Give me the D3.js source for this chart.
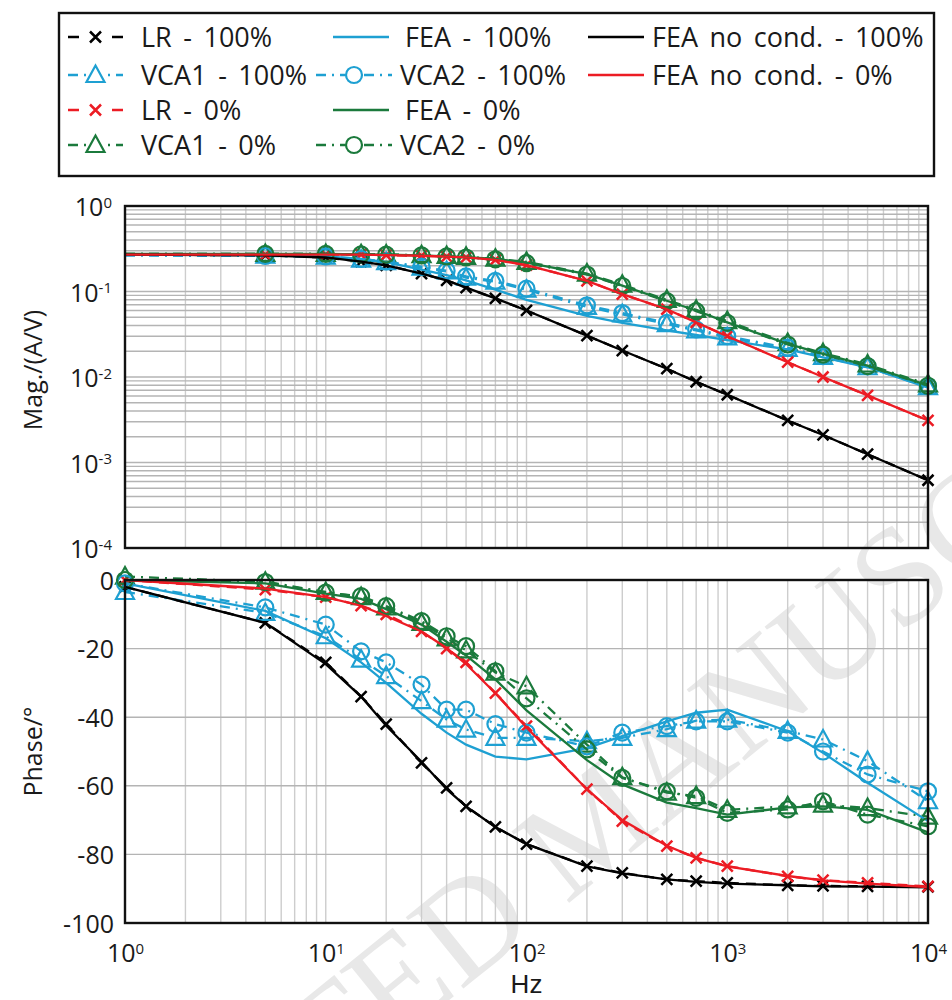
<!DOCTYPE html>
<html><head><meta charset="utf-8">
<script src="https://cdn.jsdelivr.net/npm/d3@7"></script>
<style>
body{margin:0;background:#fff}
svg{display:block}
text{font-family:"Open Sans",sans-serif;fill:#1a1a1a}
</style>
</head><body>
<svg id="c" width="952" height="1000"></svg>
<script>
// ---------------- data ----------------
const freq = [1,5,10,15,20,30,40,50,70,100,200,300,500,700,1000,2000,3000,5000,10000];

const magLR100    = [0.27,0.265,0.25,0.224,0.202,0.162,0.135,0.111,0.083,0.060,0.0305,0.0204,0.0125,0.0088,0.0062,0.0031,0.0021,0.00125,0.00062];
const magVCA1_100 = [0.265,0.262,0.255,0.235,0.22,0.19,0.172,0.145,0.13,0.105,0.066,0.054,0.0415,0.035,0.029,0.0213,0.0172,0.013,0.0076];
const magLR0      = [0.27,0.27,0.27,0.27,0.266,0.262,0.256,0.25,0.235,0.203,0.133,0.093,0.062,0.0435,0.030,0.0149,0.0100,0.0061,0.0031];
const magVCA1_0   = [0.275,0.275,0.275,0.273,0.271,0.266,0.26,0.254,0.242,0.222,0.162,0.12,0.080,0.061,0.045,0.025,0.019,0.014,0.0082];
const magFEA100   = [0.27,0.268,0.258,0.24,0.22,0.18,0.155,0.135,0.105,0.080,0.052,0.043,0.035,0.031,0.027,0.021,0.017,0.013,0.0075];
const magVCA2_100 = [0.265,0.26,0.257,0.24,0.225,0.195,0.175,0.15,0.133,0.108,0.069,0.056,0.043,0.036,0.030,0.022,0.0175,0.0133,0.0078];
const magFEA0     = [0.275,0.275,0.275,0.272,0.27,0.265,0.258,0.252,0.24,0.218,0.16,0.117,0.078,0.060,0.0436,0.0244,0.0186,0.0136,0.0080];
const magVCA2_0   = [0.275,0.275,0.275,0.272,0.27,0.264,0.257,0.25,0.238,0.215,0.158,0.116,0.077,0.059,0.043,0.024,0.0183,0.0134,0.0079];
const magFEAnc100 = [0.27,0.265,0.25,0.224,0.202,0.162,0.135,0.111,0.083,0.060,0.0305,0.0204,0.0125,0.0088,0.0062,0.0031,0.0021,0.00125,0.00062];
const magFEAnc0   = [0.27,0.27,0.27,0.27,0.266,0.262,0.256,0.25,0.235,0.203,0.133,0.093,0.062,0.0435,0.030,0.0149,0.0100,0.0061,0.0031];

const phLR100    = [-2,-12.5,-24,-34,-42,-53.3,-60.6,-66,-72,-77,-83.4,-85.4,-87.3,-87.8,-88.3,-89,-89.2,-89.3,-89.5];
const phVCA1_100 = [-3.5,-9.6,-16.4,-23.2,-28,-35.3,-40.7,-43.6,-46,-46,-47,-46,-43.5,-41,-40.7,-44,-46.5,-52.8,-64.5];
const phLR0      = [0,-2.8,-5,-7.5,-10,-15,-20,-24,-33,-42.6,-61,-70.3,-77.6,-81,-83.4,-86.4,-87.5,-88.3,-89.3];
const phVCA1_0   = [1,-0.5,-3.5,-5,-8,-12.5,-17,-20.5,-27,-31,-48,-57.5,-62,-63,-67,-66,-65.5,-66.5,-69];
const phFEA100   = [-1,-9,-17,-24,-30,-39,-44.5,-48,-51.5,-52.3,-49,-45.5,-41.2,-38.7,-37.8,-44.1,-50.4,-59.1,-70.3];
const phVCA2_100 = [-1,-8,-13,-20.8,-24,-30.5,-37.8,-37.8,-42,-44.5,-48.5,-44.5,-42.6,-41.2,-41.2,-44.5,-50,-56.7,-61.6];
const phFEA0     = [0,-1,-4,-5.5,-8.5,-13,-18,-22,-29,-38,-52.5,-59.6,-64.9,-66.5,-68.4,-66.3,-66,-67,-73.6];
const phVCA2_0   = [0,-0.6,-3.7,-4.7,-7.6,-12,-16.4,-19.3,-26.6,-34.5,-49.4,-57.7,-61.6,-63.5,-67.9,-66.9,-64.5,-68.4,-71.8];
const phFEAnc100 = [-2,-12.5,-24.5,-34,-42.5,-53,-61,-66,-72,-77,-83.5,-85.5,-87.3,-88,-88.5,-89,-89.3,-89.4,-89.6];
const phFEAnc0   = [0,-2.5,-5,-7.5,-10.5,-15,-19.8,-24.5,-33,-43,-61,-70,-77.5,-81,-83.5,-86.3,-87.6,-88.5,-89.5];

const seriesNames = ["LR - 100%","VCA1 - 100%","LR - 0%","VCA1 - 0%","FEA - 100%","VCA2 - 100%","FEA - 0%","VCA2 - 0%","FEA no cond. - 100%","FEA no cond. - 0%"];
const freqTicks  = [1,10,100,1000,10000];
const magTicks   = [1e-4,1e-3,1e-2,1e-1,1];
const phaseTicks = [-100,-80,-60,-40,-20,0];
const xLabel = "Hz", magLabel = "Mag./(A/V)", phaseLabel = "Phase/°";
const watermark = "ACCEPTED MANUSCRIPT";

// --------------- styles ----------------
const BLACK="#000000", BLUE="#1ea0d2", RED="#ec1c24", GREEN="#1b7a3c";
const DASH="10,7", DASHDOT="10,6,2,6";
const series = [
  {name:seriesNames[0], mag:magLR100,    ph:phLR100,    color:BLACK, dash:DASH,    marker:"x"},
  {name:seriesNames[1], mag:magVCA1_100, ph:phVCA1_100, color:BLUE,  dash:DASHDOT, marker:"tri"},
  {name:seriesNames[2], mag:magLR0,      ph:phLR0,      color:RED,   dash:DASH,    marker:"x"},
  {name:seriesNames[3], mag:magVCA1_0,   ph:phVCA1_0,   color:GREEN, dash:DASHDOT, marker:"tri"},
  {name:seriesNames[4], mag:magFEA100,   ph:phFEA100,   color:BLUE,  dash:null,    marker:null},
  {name:seriesNames[5], mag:magVCA2_100, ph:phVCA2_100, color:BLUE,  dash:DASHDOT, marker:"circ"},
  {name:seriesNames[6], mag:magFEA0,     ph:phFEA0,     color:GREEN, dash:null,    marker:null},
  {name:seriesNames[7], mag:magVCA2_0,   ph:phVCA2_0,   color:GREEN, dash:DASHDOT, marker:"circ"},
  {name:seriesNames[8], mag:magFEAnc100, ph:phFEAnc100, color:BLACK, dash:null,    marker:null},
  {name:seriesNames[9], mag:magFEAnc0,   ph:phFEAnc0,   color:RED,   dash:null,    marker:null}
];

const svg = d3.select("#c");
const L=125, R=928;
const x = d3.scaleLog().domain([1,1e4]).range([L,R]);
const yMag = d3.scaleLog().domain([1e-4,1]).range([548,206]);
const yPh = d3.scaleLinear().domain([-100,0]).range([923,580]);

function minorValues(lo, hi){
  const out=[];
  for(let e=Math.round(Math.log10(lo)); e<Math.round(Math.log10(hi)); e++)
    for(let m=1;m<10;m++) out.push(m*Math.pow(10,e));
  out.push(hi);
  return out;
}
const xGridVals = minorValues(1,1e4);
const magGridVals = minorValues(1e-4,1);

// watermark
svg.append("text")
  .attr("transform","translate(622,860) rotate(-39)")
  .attr("text-anchor","middle")
  .style("font-family","'Liberation Serif',serif")
  .style("font-size","140px")
  .style("fill","#e8e8e8")
  .text(watermark);

function drawPanel(y, gridY, top, bottom){
  const g = svg.append("g");
  g.selectAll("line.vg").data(xGridVals).join("line")
    .attr("x1",d=>x(d)).attr("x2",d=>x(d)).attr("y1",top).attr("y2",bottom)
    .attr("stroke","#cdcdcd").attr("stroke-width",1.4);
  g.selectAll("line.hg").data(gridY).join("line")
    .attr("x1",L).attr("x2",R).attr("y1",d=>y(d)).attr("y2",d=>y(d))
    .attr("stroke","#b4b4b4").attr("stroke-width",1.4);
  return g;
}
drawPanel(yMag, magGridVals, 206, 548);
drawPanel(yPh, [-80,-60,-40,-20], 580, 923);

// lines
function markerPath(type){
  if(type==="x") return "M-5.5,-5.5L5.5,5.5M-5.5,5.5L5.5,-5.5";
  if(type==="tri") return "M0,-9.5L9,7L-9,7Z";
  return d3.symbol().type(d3.symbolCircle).size(Math.PI*64)();
}
function drawSeries(y, key, skipFirstMarker){
  const gl = svg.append("g");
  series.forEach(s=>{
    const pts = freq.map((f,i)=>[f,s[key][i]]);
    gl.append("path").datum(pts)
      .attr("d", d3.line().x(d=>x(d[0])).y(d=>y(d[1])))
      .attr("fill","none").attr("stroke",s.color).attr("stroke-width",2.3)
      .attr("stroke-dasharray",s.dash);
    if(s.marker){
      const mp = skipFirstMarker ? pts.slice(1) : pts;
      gl.selectAll(null).data(mp).join("path")
        .attr("transform",d=>`translate(${x(d[0])},${y(d[1])})`)
        .attr("d",markerPath(s.marker))
        .attr("fill","none").attr("stroke",s.color)
        .attr("stroke-width", s.marker==="x"?2.5:2.2);
    }
  });
}
drawSeries(yMag,"mag",true);
drawSeries(yPh,"ph",false);

// frames
[[206,548],[580,923]].forEach(([t,b])=>{
  svg.append("rect").attr("x",L).attr("y",t).attr("width",R-L).attr("height",b-t)
    .attr("fill","none").attr("stroke","#111").attr("stroke-width",2.4);
});

// axes
const fs = 25;
const axMag = svg.append("g").attr("transform",`translate(${L-13},0)`)
  .call(d3.axisLeft(yMag).tickValues(magTicks).tickSize(0).tickFormat(""));
axMag.select(".domain").remove();
axMag.selectAll(".tick").each(function(d){
  const t = d3.select(this).append("text").attr("text-anchor","end").attr("dy","0.38em")
    .style("font-size",fs+"px").attr("fill","#1a1a1a");
  t.append("tspan").text("10");
  t.append("tspan").attr("dy","-0.55em").style("font-size","15px").text(String(Math.round(Math.log10(d))));
});

const axPh = svg.append("g").attr("transform",`translate(${L-11},0)`)
  .call(d3.axisLeft(yPh).tickValues(phaseTicks).tickSize(0).tickFormat(d=>String(d)));
axPh.select(".domain").remove();
axPh.selectAll(".tick text").style("font-size",fs+"px").attr("fill","#1a1a1a").attr("x",0).attr("dy","0.36em");

const axX = svg.append("g").attr("transform",`translate(0,935)`)
  .call(d3.axisBottom(x).tickValues(freqTicks).tickSize(0).tickFormat(""));
axX.select(".domain").remove();
axX.selectAll(".tick").each(function(d){
  const t = d3.select(this).append("text").attr("text-anchor","middle").attr("y",27)
    .style("font-size",fs+"px").attr("fill","#1a1a1a");
  t.append("tspan").text("10");
  t.append("tspan").attr("dy","-0.55em").style("font-size","15px").text(String(Math.round(Math.log10(d))));
});

svg.append("text").attr("x",(L+R)/2).attr("y",993).attr("text-anchor","middle")
  .style("font-family","'Liberation Sans',sans-serif").style("font-size","26px").text(xLabel);
svg.append("text").attr("transform",`translate(42,370) rotate(-90)`)
  .attr("text-anchor","middle").style("font-size","25px").text(magLabel);
svg.append("text").attr("transform",`translate(42,${(580+923)/2}) rotate(-90)`)
  .attr("text-anchor","middle").style("font-size","25px").text(phaseLabel);

// legend
svg.append("rect").attr("x",59).attr("y",13).attr("width",875).attr("height",163)
  .attr("fill","#fff").attr("stroke","#111").attr("stroke-width",2.4);
const rowsY = [37,75,110,145];
const colDefs = [
  {x1:68, x2:123, tx:141},
  {x1:316, x2:392, tx:400},
  {x1:588, x2:644, tx:652}
];
series.forEach((s,i)=>{
  const col = Math.floor(i/4), row = i%4;
  const c = colDefs[col], yy = rowsY[row];
  let x1=c.x1, x2=c.x2, tx=c.tx;
  if(col===1 && !s.marker){ x1=333; x2=389; tx=405; }
  const lg = svg.append("g");
  lg.append("line").attr("x1",x1).attr("x2",x2).attr("y1",yy).attr("y2",yy)
    .attr("stroke",s.color).attr("stroke-width",2.3)
    .attr("stroke-dasharray", s.dash===DASH ? "11,11" : (s.dash ? "10,6,2,6" : null));
  if(s.marker){
    lg.append("rect").attr("x",(x1+x2)/2-9).attr("y",yy-11).attr("width",18).attr("height",22).attr("fill","#fff");
    lg.append("path").attr("transform",`translate(${(x1+x2)/2},${yy})`)
      .attr("d",markerPath(s.marker)).attr("fill","none").attr("stroke",s.color)
      .attr("stroke-width", s.marker==="x"?2.5:2.2);
  }
  lg.append("text").attr("x",tx).attr("y",yy).attr("dy","0.36em")
    .style("font-size","27px").style("word-spacing","4.5px").text(s.name);
});
</script>
</body></html>
